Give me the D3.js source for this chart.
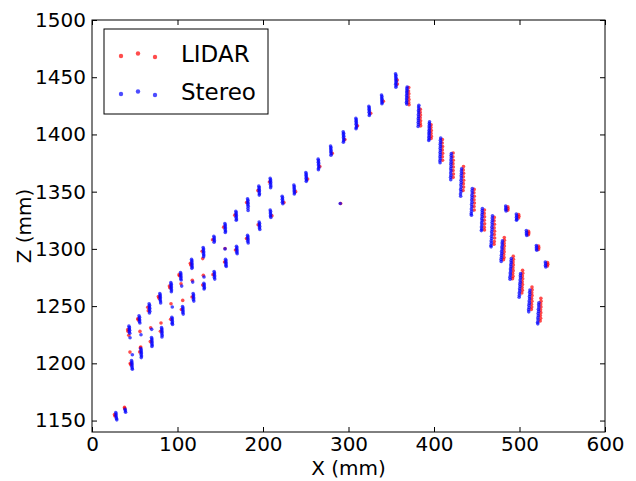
<!DOCTYPE html>
<html>
<head>
<meta charset="utf-8">
<script src="https://cdn.jsdelivr.net/npm/d3@7"></script>
<style>
  body { margin: 0; background: #fff; }
  text { font-family: "DejaVu Sans", sans-serif; fill: #000; }
  .axis path { display: none; }
  .axis line { stroke: #000; stroke-width: 1; }
  .axis text { font-size: 20px; }
</style>
</head>
<body>
<div id="chart"></div>
<script>
// ticks
const xTicks = [0, 100, 200, 300, 400, 500, 600];
const zTicks = [1150, 1200, 1250, 1300, 1350, 1400, 1450, 1500];
const seriesNames = ["LIDAR", "Stereo"];

// LIDAR points [x, z] in mm
const lidarPts = [
  [26.3,1155.3],[26.8,1154.0],[38.0,1161.5],[38.3,1160.6],
  // upper-left row
  [41.8,1229.5],[42.0,1228.0],[43.0,1224.5],[53.5,1239.0],[54.0,1238.0],[65.2,1249.0],[65.8,1246.0],
  [77.6,1258.3],[78.2,1257.0],[90.5,1267.5],[91.0,1266.0],[101.8,1277.5],[102.2,1276.5],
  [115.0,1287.5],[115.5,1286.0],[128.8,1298.0],[129.5,1291.5],[141.0,1308.0],[154.0,1319.0],
  [167.0,1329.5],[180.8,1340.5],[194.0,1351.0],[207.5,1358.5],
  // lower row up to the peak
  [44.8,1200.0],[45.2,1199.0],[55.8,1210.0],[56.5,1213.5],[68.2,1219.0],[80.0,1228.0],
  [92.0,1238.5],[104.5,1247.0],[117.0,1258.0],[129.5,1268.5],[141.5,1277.5],[155.0,1288.5],
  [167.8,1299.0],[180.7,1309.0],[194.3,1321.0],
  [210.5,1329.0],[224.5,1340.5],[238.2,1350.0],[252.2,1361.0],[266.5,1372.0],[281.0,1383.5],
  [295.8,1395.5],[310.5,1407.5],[326.0,1418.5],[340.8,1429.0],[357.2,1444.0],[357.0,1447.5],
  // sparse points between rows
  [44.4,1209.8],[56.1,1227.9],[57.0,1214.2],[68.6,1231.1],[80.7,1235.2],[92.4,1252.1],
  [104.1,1269.6],[106.1,1255.0],[117.3,1272.5],[130.2,1276.9],[155.6,1300.3],[290.8,1339.6],
  // descending side
  [370.5,1441.0],[370.2,1438.0],[370.6,1435.5],[370.3,1433.0],[370.7,1430.5],[370.4,1428.0],[370.8,1426.0],
  [384.0,1422.0],[383.8,1419.5],[384.2,1417.0],[383.9,1414.5],[384.3,1412.0],[384.0,1409.5],[384.4,1407.5],
  [396.6,1408.5],[396.4,1406.0],[396.8,1403.5],[396.5,1401.0],[396.9,1398.5],[396.6,1396.5],
  [409.8,1395.5],[409.6,1392.5],[410.0,1389.5],[409.7,1386.5],[410.1,1383.5],[409.8,1380.5],[410.0,1377.5],
  [422.4,1383.8],[422.1,1380.5],[422.5,1377.5],[422.2,1374.5],[422.6,1371.5],[422.3,1368.5],[422.7,1365.5],[422.4,1362.5],
  [434.5,1372.0],[434.2,1369.0],[434.6,1366.0],[434.3,1363.0],[434.7,1360.0],[434.3,1357.0],[434.6,1354.0],[434.0,1351.0],
  [447.0,1352.0],[446.7,1349.0],[447.1,1346.0],[446.8,1343.0],[447.2,1340.0],[446.8,1337.0],[447.0,1334.0],
  [459.0,1334.0],[458.7,1331.0],[459.1,1328.0],[458.8,1325.0],[459.2,1322.0],[458.8,1319.0],[459.0,1316.5],
  [470.5,1327.5],[470.3,1324.5],[470.7,1321.5],[470.4,1318.5],[470.8,1315.5],[470.5,1312.5],[470.9,1309.5],[470.5,1306.5],[470.2,1304.0],
  [482.2,1310.0],[482.4,1307.5],[482.0,1305.0],[482.3,1302.5],[481.8,1300.0],[482.1,1297.5],[481.6,1295.0],[481.9,1292.5],[481.3,1290.5],
  [492.7,1293.5],[492.9,1291.0],[492.5,1288.5],[492.8,1286.0],[492.3,1283.5],[492.6,1281.0],[492.1,1278.5],[492.4,1276.0],[491.8,1274.0],
  [503.6,1281.3],[503.8,1278.8],[503.4,1276.3],[503.7,1273.8],[503.2,1271.3],[503.5,1268.8],[503.0,1266.3],[503.3,1263.8],[502.7,1261.5],
  [514.6,1266.7],[514.8,1264.2],[514.4,1261.7],[514.7,1259.2],[514.2,1256.7],[514.5,1254.2],[514.0,1251.7],[514.3,1249.2],[513.8,1247.0],
  [525.0,1256.8],[525.2,1254.3],[524.8,1251.8],[525.1,1249.3],[524.6,1246.8],[524.9,1244.3],[524.4,1241.8],[524.7,1239.3],[524.2,1237.0],
  // short right-hand row
  [486.3,1336.8],[486.6,1335.2],[486.2,1333.8],[499.0,1330.0],[499.3,1328.5],[498.9,1327.0],
  [510.6,1315.3],[510.9,1313.8],[510.5,1312.3],[522.3,1302.5],[522.6,1301.0],[522.2,1299.5],
  [532.8,1288.0],[533.1,1286.5],[532.7,1285.0]
];

// Stereo points [x, z] in mm
const stereoPts = [
  [27.8,1157.0],[28.2,1155.7],[27.9,1154.4],[28.4,1153.1],[28.6,1151.8],[29.0,1150.6],
  [38.7,1159.8],[39.0,1158.5],[39.3,1157.3],
  // upper-left row
  [43.2,1232.5],[43.8,1231.2],[43.5,1230.0],[44.0,1228.8],[43.6,1227.5],[44.2,1226.3],[44.5,1222.4],
  [55.0,1241.5],[55.6,1240.3],[55.2,1239.0],[55.8,1237.8],[55.4,1236.5],[56.0,1235.2],
  [66.8,1252.0],[67.3,1250.8],[67.0,1249.5],[67.5,1248.2],[67.1,1247.0],[67.6,1245.5],[67.2,1244.0],
  [79.3,1261.0],[79.8,1259.7],[79.5,1258.5],[80.0,1257.2],[79.6,1255.8],[80.1,1254.5],[80.3,1252.8],
  [92.2,1270.5],[92.7,1269.2],[92.4,1268.0],[92.9,1266.6],[92.5,1265.3],[93.0,1264.0],[92.8,1262.5],
  [103.5,1279.3],[104.0,1278.0],[103.7,1276.7],[104.2,1275.4],[103.8,1274.0],[104.3,1272.8],
  [116.4,1290.8],[116.9,1289.5],[116.6,1288.2],[117.1,1286.8],[116.7,1285.5],[117.2,1284.2],[116.8,1283.0],
  [130.0,1301.2],[130.5,1299.9],[130.2,1298.6],[130.7,1297.3],[130.3,1296.0],[130.8,1294.6],[130.5,1293.2],
  [142.5,1311.0],[143.0,1309.7],[142.7,1308.4],[143.2,1307.1],[142.8,1305.8],
  [155.4,1322.2],[155.9,1320.9],[155.6,1319.6],[156.1,1318.3],[155.7,1317.0],[156.2,1315.6],[155.9,1314.4],
  [168.2,1332.8],[168.7,1331.5],[168.4,1330.2],[168.9,1328.9],[168.5,1327.6],[169.0,1326.2],[168.7,1325.0],
  [181.9,1343.8],[182.4,1342.5],[182.1,1341.2],[182.6,1339.9],[182.2,1338.6],[182.7,1337.2],[182.4,1335.5],[182.6,1333.5],
  [195.1,1354.8],[195.6,1353.5],[195.3,1352.2],[195.8,1350.9],[195.4,1349.6],[195.9,1348.2],[195.6,1347.0],
  [208.4,1361.6],[208.9,1360.3],[208.6,1359.0],[209.1,1357.7],[208.7,1356.4],[209.2,1355.0],[208.9,1353.5],
  // lower row up to the peak
  [46.2,1202.5],[46.7,1201.2],[46.4,1200.0],[46.9,1198.7],[46.5,1197.4],[47.0,1196.0],[47.2,1194.8],
  [57.1,1213.0],[57.6,1211.7],[57.3,1210.4],[57.8,1209.1],[57.4,1207.8],[57.9,1206.4],[57.6,1205.0],
  [69.6,1222.5],[70.1,1221.2],[69.8,1219.9],[70.3,1218.6],[69.9,1217.3],[70.4,1216.0],[70.1,1214.8],
  [81.3,1231.2],[81.8,1229.9],[81.5,1228.6],[82.0,1227.3],[81.6,1226.0],[82.1,1224.6],[81.8,1223.0],
  [93.4,1240.2],[93.9,1238.9],[93.6,1237.6],[94.1,1236.3],[93.7,1235.0],[94.2,1234.0],
  [105.9,1249.6],[106.4,1248.3],[106.1,1247.0],[106.6,1245.7],[106.2,1244.4],[106.7,1243.0],
  [118.3,1261.0],[118.8,1259.7],[118.5,1258.4],[119.0,1257.1],[118.6,1255.8],[119.1,1254.4],
  [130.8,1270.0],[131.3,1268.7],[131.0,1267.4],[131.5,1266.1],[131.1,1265.0],
  [142.8,1280.2],[143.3,1278.9],[143.0,1277.6],[143.5,1276.3],[143.1,1275.0],[143.6,1273.6],
  [156.2,1291.0],[156.7,1289.7],[156.4,1288.4],[156.9,1287.1],[156.5,1285.8],[157.0,1284.6],
  [169.0,1302.2],[169.5,1300.9],[169.2,1299.6],[169.7,1298.3],[169.3,1297.0],[169.8,1295.8],
  [181.9,1311.8],[182.4,1310.5],[182.1,1309.2],[182.6,1307.9],[182.2,1306.6],[182.7,1305.2],
  [195.5,1323.4],[196.0,1322.1],[195.7,1320.8],[196.2,1319.5],[195.8,1318.2],[196.3,1317.0],
  [208.4,1334.0],[208.9,1332.7],[208.6,1331.4],[209.1,1330.1],[208.7,1328.8],[209.2,1327.5],
  [222.4,1346.0],[222.9,1344.7],[222.6,1343.4],[223.1,1342.1],[222.7,1340.8],[223.2,1339.4],
  [236.1,1355.8],[236.6,1354.5],[236.3,1353.2],[236.8,1351.9],[236.4,1350.6],[236.9,1349.2],[236.6,1348.0],
  [250.1,1366.8],[250.6,1365.5],[250.3,1364.2],[250.8,1362.9],[250.4,1361.6],[250.9,1360.2],[250.6,1359.0],
  [264.5,1378.4],[265.0,1377.1],[264.7,1375.8],[265.2,1374.5],[264.8,1373.2],[265.3,1371.8],[265.0,1370.5],[264.8,1369.2],
  [279.0,1389.8],[279.5,1388.5],[279.2,1387.2],[279.7,1385.9],[279.3,1384.6],[279.8,1383.2],[279.5,1381.8],
  [293.8,1402.4],[294.3,1401.1],[294.0,1399.8],[294.5,1398.5],[294.1,1397.2],[294.6,1395.8],[294.3,1394.5],[294.0,1393.2],
  [308.6,1414.0],[309.1,1412.7],[308.8,1411.4],[309.3,1410.1],[308.9,1408.8],[309.4,1407.4],[309.1,1406.1],[308.8,1405.0],
  [323.8,1424.5],[324.3,1423.2],[324.0,1421.9],[324.5,1420.6],[324.1,1419.3],[324.6,1417.9],[324.3,1416.6],
  [338.6,1434.5],[339.1,1433.2],[338.8,1431.9],[339.3,1430.6],[338.9,1429.3],[339.4,1427.9],[339.1,1426.8],
  [355.0,1453.0],[355.5,1451.7],[355.2,1450.4],[355.7,1449.1],[355.3,1447.8],[355.8,1446.4],[355.5,1445.1],[355.2,1443.8],[355.7,1442.5],[355.4,1441.2],
  // sparse points between rows
  [47.2,1207.5],[57.3,1225.0],[69.8,1229.7],[93.9,1249.2],[104.9,1267.5],[117.8,1271.0],[131.0,1275.4],[155.6,1300.0],[290.3,1339.6],
  // descending side
  [368.6,1441.5],[368.3,1440.0],[368.5,1438.5],[368.1,1437.0],[368.4,1435.5],[368.0,1434.0],[368.3,1432.5],[367.9,1431.0],[368.2,1429.5],[367.8,1428.0],[368.1,1426.5],
  [382.3,1425.5],[382.0,1424.0],[382.2,1422.3],[381.8,1420.6],[382.1,1418.9],[381.7,1417.2],[382.0,1415.5],[381.6,1413.8],[381.9,1412.1],[381.5,1410.4],[381.8,1408.7],[381.4,1407.0],
  [394.8,1411.0],[394.5,1409.5],[394.7,1408.0],[394.3,1406.5],[394.6,1405.0],[394.2,1403.5],[394.5,1402.0],[394.1,1400.5],[394.4,1399.0],[394.0,1397.5],[394.3,1396.0],[393.9,1394.8],
  [407.8,1396.8],[407.5,1395.0],[407.7,1393.2],[407.3,1391.4],[407.6,1389.6],[407.2,1387.8],[407.5,1386.0],[407.1,1384.2],[407.4,1382.4],[407.0,1380.6],[407.3,1378.8],[406.9,1377.0],[407.1,1375.3],
  [420.3,1383.4],[420.0,1381.5],[420.2,1379.6],[419.8,1377.7],[420.1,1375.8],[419.7,1373.9],[420.0,1372.0],[419.6,1370.1],[419.9,1368.2],[419.5,1366.3],[419.8,1364.4],[419.4,1362.5],[419.6,1360.5],
  [432.3,1370.0],[432.0,1368.0],[432.2,1366.0],[431.8,1364.0],[432.0,1362.0],[431.6,1360.0],[431.9,1358.0],[431.4,1356.0],[431.7,1354.0],[431.2,1352.0],[431.5,1350.0],[431.0,1348.0],[431.2,1346.0],
  [444.8,1352.8],[444.5,1350.8],[444.7,1348.8],[444.3,1346.8],[444.5,1344.8],[444.1,1342.8],[444.4,1340.8],[443.9,1338.8],[444.2,1336.8],[443.7,1334.8],[444.0,1332.8],[443.5,1330.8],[443.8,1329.5],
  [456.6,1335.3],[456.3,1333.5],[456.5,1331.7],[456.1,1329.9],[456.3,1328.1],[455.9,1326.3],[456.2,1324.5],[455.7,1322.7],[456.0,1320.9],[455.5,1319.1],[455.8,1317.3],[455.4,1316.0],
  [468.4,1329.0],[468.1,1327.0],[468.3,1325.0],[467.9,1323.0],[468.1,1321.0],[467.7,1319.0],[467.9,1317.0],[467.4,1315.0],[467.7,1313.0],[467.2,1311.0],[467.4,1309.0],[466.9,1307.0],[467.1,1305.0],[466.6,1303.0],[466.8,1301.8],
  [480.0,1307.0],[479.7,1305.2],[479.9,1303.4],[479.4,1301.6],[479.6,1299.8],[479.1,1298.0],[479.3,1296.2],[478.8,1294.4],[479.0,1292.6],[478.4,1290.8],[478.6,1289.0],
  [490.4,1291.5],[490.1,1289.7],[490.3,1287.9],[489.8,1286.1],[490.0,1284.3],[489.5,1282.5],[489.7,1280.7],[489.2,1278.9],[489.4,1277.1],[488.8,1275.3],[489.0,1273.5],
  [501.3,1278.5],[501.0,1276.6],[501.2,1274.7],[500.7,1272.8],[500.9,1270.9],[500.4,1269.0],[500.6,1267.1],[500.1,1265.2],[500.3,1263.3],[499.7,1261.4],[499.9,1259.5],[499.6,1257.8],
  [512.2,1264.0],[511.9,1262.1],[512.1,1260.2],[511.6,1258.3],[511.8,1256.4],[511.3,1254.5],[511.5,1252.6],[511.0,1250.7],[511.2,1248.8],[510.6,1246.9],[510.8,1245.0],
  [522.7,1253.0],[522.4,1251.1],[522.6,1249.2],[522.1,1247.3],[522.3,1245.4],[521.8,1243.5],[522.0,1241.6],[521.5,1239.7],[521.7,1237.8],[521.2,1235.9],[521.4,1234.5],
  // short right-hand row
  [483.8,1337.5],[484.1,1336.0],[483.9,1334.5],[484.3,1333.2],
  [496.3,1330.5],[496.6,1329.0],[496.4,1327.5],[496.8,1326.0],[496.5,1325.0],
  [508.0,1316.0],[508.3,1314.5],[508.1,1313.0],[508.5,1311.8],
  [519.7,1303.0],[520.0,1301.5],[519.8,1300.0],[520.2,1298.8],
  [530.2,1288.5],[530.5,1287.0],[530.3,1285.5],[530.7,1284.2]
];

const W = 636, H = 481;
const margin = { LEFT: 92, RIGHT: 31, TOP: 20, BOTTOM: 49 };
const w = W - margin.LEFT - margin.RIGHT;
const h = H - margin.TOP - margin.BOTTOM;

const colors = d3.scaleOrdinal().domain(seriesNames).range(["#ff0000", "#0000ff"]);

const svg = d3.select("#chart").append("svg")
  .attr("width", W)
  .attr("height", H);

const g = svg.append("g")
  .attr("transform", `translate(${margin.LEFT}, ${margin.TOP})`);

const xScale = d3.scaleLinear().domain([0, 600]).range([0, w]);
const yScale = d3.scaleLinear().domain([1140, 1500]).range([h, 0]);

// points
const sets = [lidarPts, stereoPts];
sets.forEach((pts, i) => {
  g.append("g")
    .selectAll("circle")
    .data(pts)
    .enter()
    .append("circle")
    .attr("cx", d => xScale(d[0]))
    .attr("cy", d => yScale(d[1]))
    .attr("r", 1.8)
    .style("fill", colors(seriesNames[i]))
    .style("fill-opacity", 0.7);
});

// axes, ticks pointing inwards on all four sides
const tick = 5;
const fmt = d3.format("d");
g.append("g").attr("class", "axis")
  .attr("transform", `translate(0, ${h})`)
  .call(d3.axisBottom(xScale).tickValues(xTicks).tickFormat(fmt).tickSize(-tick).tickSizeOuter(0).tickPadding(5));
g.append("g").attr("class", "axis")
  .call(d3.axisTop(xScale).tickValues(xTicks).tickSize(-tick).tickSizeOuter(0).tickFormat(""));
g.append("g").attr("class", "axis")
  .call(d3.axisLeft(yScale).tickValues(zTicks).tickFormat(fmt).tickSize(-tick).tickSizeOuter(0).tickPadding(6));
g.append("g").attr("class", "axis")
  .attr("transform", `translate(${w}, 0)`)
  .call(d3.axisRight(yScale).tickValues(zTicks).tickSize(-tick).tickSizeOuter(0).tickFormat(""));

g.append("rect")
  .attr("width", w).attr("height", h)
  .style("fill", "none").style("stroke", "#000").style("stroke-width", 1);

// axis labels
svg.append("text")
  .attr("x", margin.LEFT + w / 2)
  .attr("y", 475)
  .style("text-anchor", "middle")
  .style("font-size", "20px")
  .text("X (mm)");

svg.append("text")
  .attr("transform", `translate(31, ${margin.TOP + h / 2}) rotate(-90)`)
  .style("text-anchor", "middle")
  .style("font-size", "20px")
  .text("Z (mm)");

// legend
const legend = svg.append("g").attr("transform", "translate(104, 29)");
legend.append("rect")
  .attr("width", 164).attr("height", 85)
  .style("fill", "#fff").style("stroke", "#000").style("stroke-width", 1);

const legendDy = [2, -0.5, 3];
seriesNames.forEach((name, i) => {
  const cy = 25 + i * 38;
  legend.selectAll(null)
    .data(legendDy)
    .enter()
    .append("circle")
    .attr("cx", (d, j) => 17 + j * 17)
    .attr("cy", d => cy + d)
    .attr("r", 2.2)
    .style("fill", colors(name))
    .style("fill-opacity", 0.7);
  legend.append("text")
    .attr("x", 77)
    .attr("y", cy + 8)
    .style("font-size", "23px")
    .text(name);
});
</script>
</body>
</html>
